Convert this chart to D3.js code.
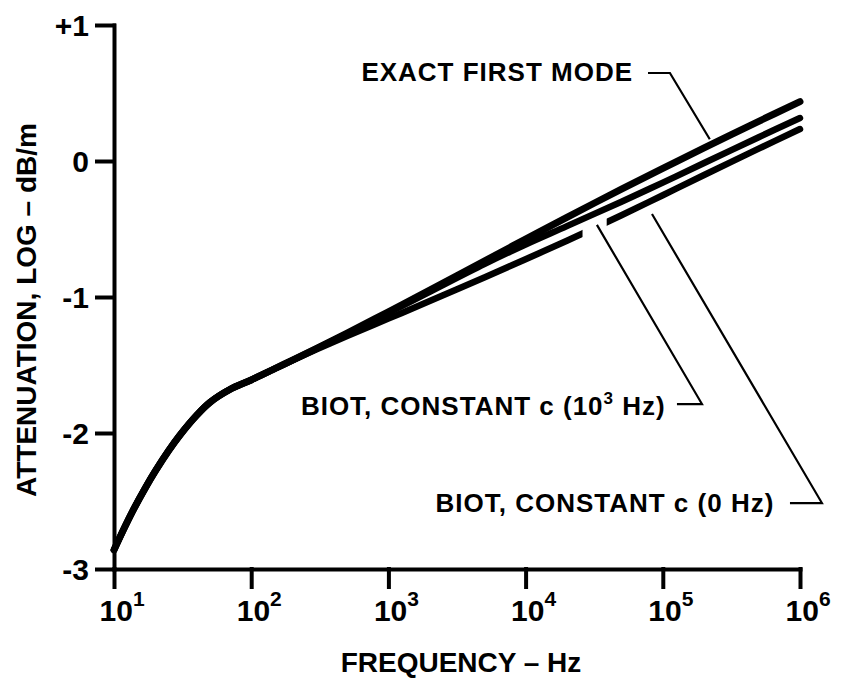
<!DOCTYPE html>
<html>
<head>
<meta charset="utf-8">
<script src="https://cdn.jsdelivr.net/npm/d3@7"></script>
<style>
  body { margin: 0; background: #fff; }
  svg { display: block; }
  text { font-family: "Liberation Sans", Arial, sans-serif; font-weight: bold; fill: #000; }
</style>
</head>
<body>
<svg id="chart" width="842" height="679"></svg>
<script>
// frequency samples (Hz) shared by all three curves
const freqs = [10, 12, 14, 17, 20, 25, 30, 40, 50, 70, 100, 150, 200, 300, 500,
  1000, 2000, 5000, 1e4, 2e4, 5e4, 1e5, 2e5, 5e5, 1e6];

// log attenuation (dB/m)
const exactFirstMode = [-2.86, -2.69, -2.555, -2.40, -2.28, -2.13, -2.02, -1.87, -1.775, -1.68,
  -1.61, -1.525, -1.464, -1.377, -1.265, -1.109, -0.95, -0.736, -0.574, -0.414, -0.207, -0.054, 0.097, 0.292, 0.436];
const biotConst1kHz = [-2.86, -2.69, -2.555, -2.40, -2.28, -2.13, -2.02, -1.87, -1.775, -1.68,
  -1.61, -1.525, -1.465, -1.379, -1.27, -1.117, -0.962, -0.758, -0.614, -0.479, -0.299, -0.159, -0.015, 0.175, 0.316];
const biotConst0Hz = [-2.86, -2.69, -2.555, -2.40, -2.28, -2.13, -2.02, -1.87, -1.775, -1.68,
  -1.61, -1.525, -1.466, -1.385, -1.287, -1.159, -1.03, -0.856, -0.722, -0.586, -0.399, -0.252, -0.103, 0.091, 0.235];

// break in the 0 Hz curve where the leader line crosses it
const biot0HzGap = [26000, 39000];

const xTicks = [1e1, 1e2, 1e3, 1e4, 1e5, 1e6];
const xTickExponents = ['1', '2', '3', '4', '5', '6'];
const yTicks = [-3, -2, -1, 0, 1];
const yTickLabels = ['-3', '-2', '-1', '0', '+1'];

const svg = d3.select('#chart');

const xScale = d3.scaleLog().domain([10, 1e6]).range([114, 800]);
const yScale = d3.scaleLinear().domain([-3, 1]).range([569, 25]);

// axes
const yAxis = d3.axisLeft(yScale)
  .tickValues(yTicks)
  .tickSize(17)
  .tickSizeOuter(0)
  .tickPadding(8)
  .tickFormat((d, i) => yTickLabels[i]);

const xAxis = d3.axisBottom(xScale)
  .tickValues(xTicks)
  .tickSize(18)
  .tickSizeOuter(0)
  .tickFormat('');

const yAxisG = svg.append('g')
  .attr('transform', `translate(${xScale(10)},0)`)
  .call(yAxis);

const xAxisG = svg.append('g')
  .attr('transform', `translate(0,${yScale(-3)})`)
  .call(xAxis);

svg.selectAll('.domain, .tick line')
  .attr('stroke', '#000')
  .attr('stroke-width', 4)
  .attr('stroke-linecap', 'square');

yAxisG.selectAll('.tick text')
  .attr('font-size', 30)
  .attr('dy', '0.36em');

xAxisG.selectAll('.tick').each(function (d, i) {
  const t = d3.select(this).append('text')
    .attr('y', 52)
    .attr('x', -15)
    .attr('font-size', 30)
    .attr('text-anchor', 'start');
  t.append('tspan').text('10');
  t.append('tspan')
    .attr('font-size', 21)
    .attr('dy', -15)
    .text(xTickExponents[i]);
});

// axis titles
svg.append('text')
  .attr('transform', 'translate(36,310) rotate(-90)')
  .attr('text-anchor', 'middle')
  .attr('font-size', 28)
  .text('ATTENUATION, LOG \u2013 dB/m');

svg.append('text')
  .attr('x', 461)
  .attr('y', 672)
  .attr('text-anchor', 'middle')
  .attr('font-size', 28)
  .text('FREQUENCY \u2013 Hz');

// curves
const line = d3.line()
  .x((d, i) => xScale(freqs[i]))
  .y(d => yScale(d))
  .curve(d3.curveCatmullRom.alpha(0.5));

const clip = svg.append('defs').append('clipPath').attr('id', 'gap-clip');
clip.append('rect')
  .attr('x', 0).attr('y', 0)
  .attr('width', xScale(biot0HzGap[0])).attr('height', 679);
clip.append('rect')
  .attr('x', xScale(biot0HzGap[1])).attr('y', 0)
  .attr('width', 842 - xScale(biot0HzGap[1])).attr('height', 679);

const curves = [
  { values: biotConst0Hz, width: 6.5, clip: true },
  { values: biotConst1kHz, width: 6.5, clip: false },
  { values: exactFirstMode, width: 7, clip: false }
];

svg.append('g').selectAll('path')
  .data(curves)
  .join('path')
  .attr('d', d => line(d.values))
  .attr('fill', 'none')
  .attr('stroke', '#000')
  .attr('stroke-width', d => d.width)
  .attr('stroke-linecap', 'round')
  .attr('clip-path', d => d.clip ? 'url(#gap-clip)' : null);

// annotation leaders, in data units [freq, value]
const leaders = [
  [[78000, 0.647], [112700, 0.647], [220000, 0.16]],
  [[126800, -1.787], [193000, -1.787], [33100, -0.47]],
  [[845000, -2.515], [1445000, -2.515], [83400, -0.39]]
];

const leaderLine = d3.line()
  .x(d => xScale(d[0]))
  .y(d => yScale(d[1]));

svg.append('g').selectAll('path')
  .data(leaders)
  .join('path')
  .attr('d', leaderLine)
  .attr('fill', 'none')
  .attr('stroke', '#000')
  .attr('stroke-width', 2.2);

// annotation labels: [freq, value] of the label's right end
const labels = [
  { pos: [60700, 0.588], parts: [['EXACT FIRST MODE', false]] },
  { pos: [105000, -1.868], parts: [['BIOT, CONSTANT c (10', false], ['3', true], [' Hz)', false]] },
  { pos: [650000, -2.58], parts: [['BIOT, CONSTANT c (0 Hz)', false]] }
];

labels.forEach(lab => {
  const t = svg.append('text')
    .attr('x', xScale(lab.pos[0]))
    .attr('y', yScale(lab.pos[1]))
    .attr('text-anchor', 'end')
    .attr('font-size', 26)
    .attr('letter-spacing', 1);
  lab.parts.forEach(([s, sup], k) => {
    const ts = t.append('tspan').text(s);
    if (sup) ts.attr('font-size', 17).attr('dy', -11);
    else if (k > 0) ts.attr('dy', 11);
  });
});
</script>
</body>
</html>
